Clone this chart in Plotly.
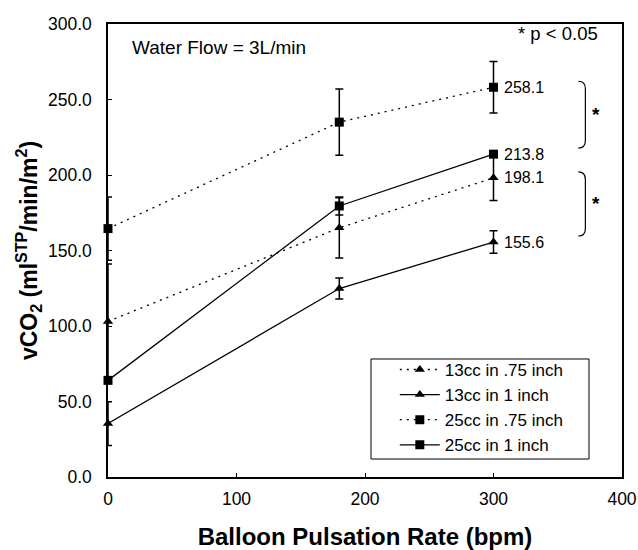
import plotly.graph_objects as go

x_rate = [0, 180, 300]
names = ["13cc in .75 inch", "13cc in 1 inch", "25cc in .75 inch", "25cc in 1 inch"]
v_13_075 = [103.0, 165.0, 198.1]
e_13_075 = [38.0, 20.0, 15.0]
v_13_1 = [35.4, 124.8, 155.6]
e_13_1 = [14.5, 7.0, 7.5]
v_25_075 = [164.5, 235.0, 258.1]
e_25_075 = [21.0, 22.0, 17.0]
v_25_1 = [64.0, 179.5, 213.8]
e_25_1 = [0.0, 6.0, 0.0]
y_ticks = [0, 50, 100, 150, 200, 250, 300]
x_ticks = [0, 100, 200, 300, 400]

series = [
    (names[0], v_13_075, e_13_075, "2px,5px", "triangle-up"),
    (names[1], v_13_1, e_13_1, "solid", "triangle-up"),
    (names[2], v_25_075, e_25_075, "2px,5px", "square"),
    (names[3], v_25_1, e_25_1, "solid", "square"),
]

fig = go.Figure()
for i, (nm, vals, errs, dash, sym) in enumerate(series):
    fig.add_trace(go.Scatter(
        x=x_rate, y=vals, name=nm, mode="lines+markers",
        line=dict(color="black", width=1.3, dash=dash),
        marker=dict(symbol=sym, size=9, color="black"),
        error_y=dict(type="data", array=errs, visible=True, color="black",
                     thickness=1.5, width=4),
        cliponaxis=False,
    ))

FONT = "Liberation Sans, Arial, sans-serif"
annots = []
for vals in [v_25_075, v_25_1, v_13_075, v_13_1]:
    annots.append(dict(x=x_rate[-1], y=vals[-1], text=f"{vals[-1]:.1f}", showarrow=False,
                       xanchor="left", yanchor="middle", xshift=8,
                       font=dict(size=16, color="black", family=FONT)))
annots.append(dict(x=0.043, y=0.948, xref="paper", yref="paper", text="Water Flow = 3L/min",
                   showarrow=False, xanchor="left", yanchor="middle",
                   font=dict(size=19, color="black", family=FONT)))
annots.append(dict(x=0.958, y=0.98, xref="paper", yref="paper", text="* p < 0.05",
                   showarrow=False, xanchor="right", yanchor="middle",
                   font=dict(size=18.5, color="black", family=FONT)))
# significance brackets
pairs = [(v_25_075[-1], v_25_1[-1]), (v_13_075[-1], v_13_1[-1])]
shapes = []
for top, bot in pairs:
    t = top + 4
    b = bot + 4
    path = (f"M 366,{t} Q 371.5,{t} 371.5,{t-5} L 371.5,{b+5} Q 371.5,{b} 366,{b}")
    shapes.append(dict(type="path", path=path, xref="x", yref="y",
                       line=dict(color="black", width=1.2)))
    annots.append(dict(x=380, y=(t + b) / 2, text="<b>*</b>", showarrow=False,
                       xanchor="center", yanchor="middle",
                       font=dict(size=19, color="black", family=FONT)))
# legend frame
shapes.append(dict(type="rect", xref="paper", yref="paper", x0=0.5117, x1=0.9358,
                   y0=0.0397, y1=0.2605, line=dict(color="black", width=1)))

fig.update_layout(
    width=638, height=550,
    margin=dict(l=108, r=16, t=24, b=73, autoexpand=False),
    paper_bgcolor="white", plot_bgcolor="white",
    font=dict(family=FONT, color="black", size=17),
    showlegend=True,
    legend=dict(x=0.558, y=0.276, xanchor="left", yanchor="top",
                borderwidth=0, bgcolor="rgba(0,0,0,0)",
                font=dict(size=17, family=FONT), tracegroupgap=0,
                itemwidth=40),
    annotations=annots, shapes=shapes,
    xaxis=dict(range=[0, 400], tickvals=x_ticks, showline=True, linecolor="black",
               linewidth=1.5, mirror=True, showgrid=False, zeroline=False,
               ticks="inside", ticklen=4, tickcolor="black", automargin=False,
               ticklabelstandoff=5,
               title=dict(text="<b>Balloon Pulsation Rate (bpm)</b>", font=dict(size=24), standoff=20),
               tickfont=dict(size=17.5)),
    yaxis=dict(range=[0, 300], tickvals=y_ticks, tickformat=".1f", showline=True,
               linecolor="black", linewidth=1.5, mirror=True, showgrid=False,
               zeroline=False, ticks="inside", ticklen=4, tickcolor="black",
               automargin=False, ticklabelstandoff=11,
               title=dict(text="<b>vCO<sub>2</sub> (ml<sup>STP</sup>/min/m<sup>2</sup>)</b>",
                          font=dict(size=23), standoff=4),
               tickfont=dict(size=17.5)),
)
fig.write_html("out.html")
